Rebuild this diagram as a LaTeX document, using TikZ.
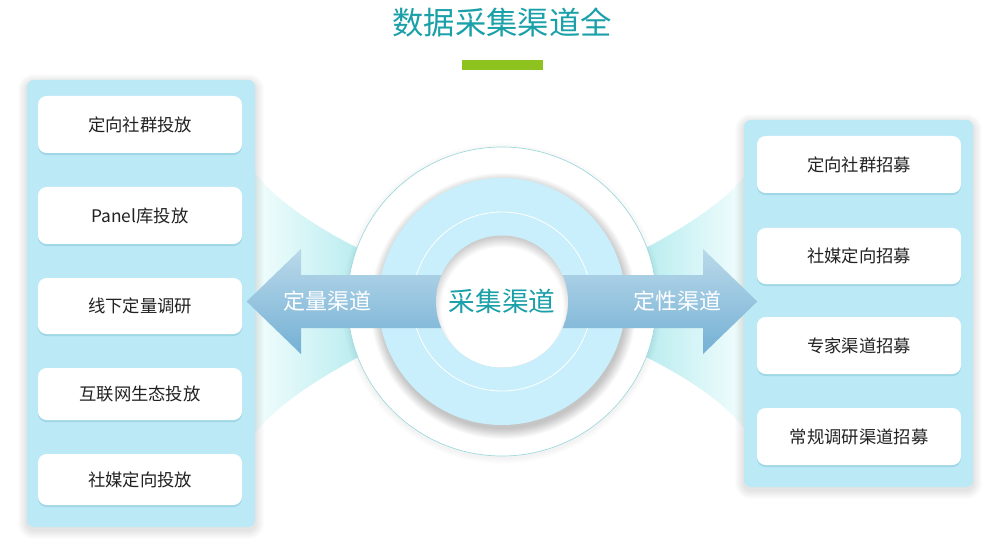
\documentclass[tikz,border=0pt]{standalone}
\usepackage{fontspec}
\setmainfont{Noto Sans CJK SC}
\usetikzlibrary{calc,positioning,shadows,fadings}
\definecolor{headline}{HTML}{1AA0A8}
\definecolor{accent}{HTML}{8DC21F}
\definecolor{panelblue}{HTML}{BCE9F6}
\definecolor{itemshade}{HTML}{9ED6E6}
\definecolor{ringblue}{HTML}{C8EFFB}
\definecolor{rimline}{HTML}{9DD8DC}
\definecolor{fancyan}{HTML}{B8ECEF}
\definecolor{fanpale}{HTML}{F2FDFD}
\definecolor{arrowtop}{HTML}{BAD9EA}
\definecolor{arrowbottom}{HTML}{74B0D4}
\definecolor{ink}{HTML}{222222}

\begin{document}
\begin{tikzpicture}[
  x=0.75pt,y=-0.75pt,
  font=\fontsize{13}{15}\selectfont,
  text=ink,
  panel/.style={fill=panelblue, rounded corners=5pt},
  softshade/.style={fill=black, opacity=#1},
  item/.style={fill=white, rounded corners=6.5pt, inner sep=0pt,
    minimum width=153pt,
    drop shadow={shadow xshift=0pt, shadow yshift=-1.6pt,
      fill=itemshade, opacity=0.9}},
  channel/.style={text=white, font=\fontsize{16.5}{18}\selectfont}
]

% canvas
\fill[white] (0,0) rectangle (1000,556);
\useasboundingbox (0,0) rectangle (1000,556);
\coordinate (hub) at (502,301.5);

% Title
\node[text=headline, font=\fontsize{23.5}{27}\selectfont] (title) at (502,22) {数据采集渠道全};
\fill[accent] (462,60) rectangle (543,70);

% Fans behind the disc
\shade[left color=fanpale, right color=fancyan] (255,173)
  .. controls (275,200) and (320,230) .. (362,250) -- (362,355)
  .. controls (320,378) and (280,402) .. (255,433) -- cycle;
\shade[left color=fancyan, right color=fanpale] (744,177)
  .. controls (724,202) and (684,228) .. (642,250) -- (642,355)
  .. controls (684,376) and (722,400) .. (744,428) -- cycle;

% soft panel shadows
\foreach \k in {1,...,9} {
  \fill[softshade=0.011, rounded corners=5pt+\k*0.75pt]
    (27-\k,80-\k+3) rectangle (255+\k,527+\k+3);
  \fill[softshade=0.011, rounded corners=5pt+\k*0.75pt]
    (744-\k,120-\k+3) rectangle (973+\k,487+\k+3);
}

% Left panel: quantitative
\path[panel] (27,80) rectangle (255,527);
\foreach \name/\yc/\h/\txt in {
    quant1/124.5/57/定向社群投放,
    quant2/215.5/57/Panel库投放,
    quant3/306/56/线下定量调研,
    quant4/394/52/互联网生态投放,
    quant5/479.5/51/社媒定向投放}
  \node[item, minimum height=\h*0.75pt] (\name) at (140,\yc) {\txt};

% Right panel: qualitative
\path[panel] (744,120) rectangle (973,487);
\foreach \name/\yc/\h/\txt in {
    qual1/164.5/57/定向社群招募,
    qual2/256/56/社媒定向招募,
    qual3/345.5/57/专家渠道招募,
    qual4/436.5/57/常规调研渠道招募}
  \node[item, minimum height=\h*0.75pt] (\name) at (859,\yc) {\txt};

% Disc
\foreach \k in {1,...,6}
  \fill[softshade=0.008] ($(hub)+(0,2)$) circle (154.5+\k);
\fill[white, draw=rimline, line width=0.5pt] (hub) circle (154.5);
\foreach \k in {1,...,10}
  \fill[softshade=0.022] ($(hub)+(1.5,4.5)$) circle (122+\k*1.1);
\fill[ringblue] (hub) circle (123.5);
\draw[white, line width=0.6pt] (hub) circle (89.5);

% Double arrow
\shade[top color=arrowtop, bottom color=arrowbottom]
  (246.7,301.5) -- (301,249) -- (301,275) -- (703,275) -- (703,249)
  -- (757.3,301.5) -- (703,354) -- (703,328) -- (301,328) -- (301,354) -- cycle;

% Inner circle with soft inset shadow
\begin{scope}
  \clip (hub) circle (66);
  \fill[gray!40] (hub) circle (66);
  \fill[white, path fading=circle with fuzzy edge 15 percent]
    ($(hub)+(0,6)$) circle (71);
\end{scope}

% Labels
\node[text=headline, font=\fontsize{20}{23}\selectfont] (hublabel) at (hub) {采集渠道};
\node[channel] (quantlabel) at (327.5,301) {定量渠道};
\node[channel] (quallabel) at (677.5,301) {定性渠道};

\end{tikzpicture}
\end{document}
